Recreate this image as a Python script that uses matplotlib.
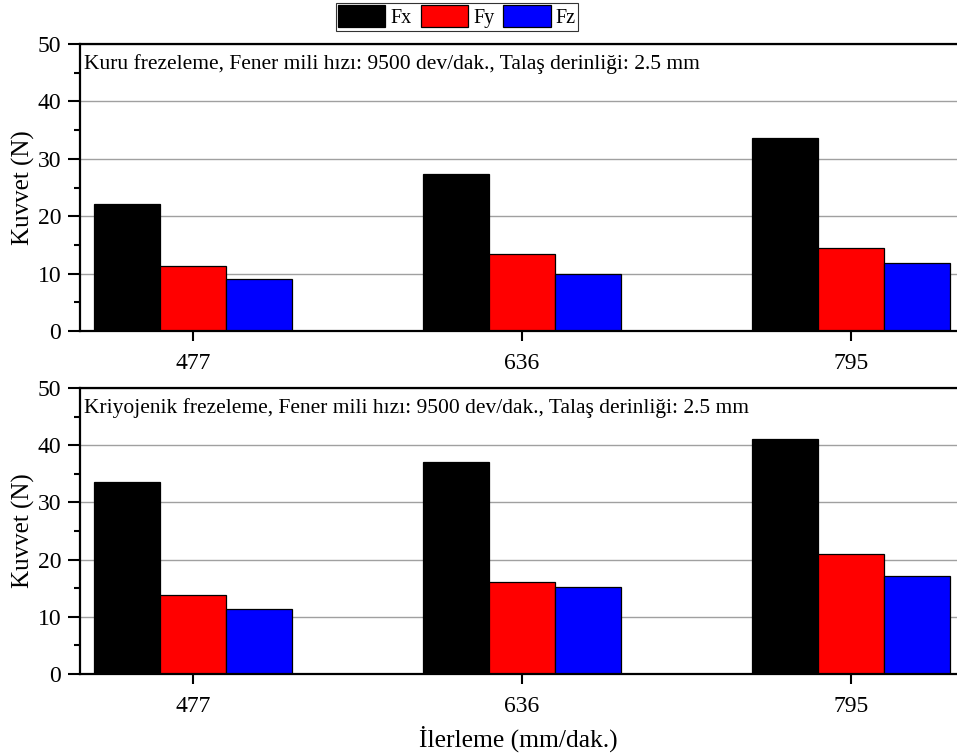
import matplotlib
matplotlib.use("Agg")
import matplotlib.pyplot as plt
import numpy as np
from matplotlib.patches import Patch

plt.rcParams["font.family"] = ["Liberation Serif", "DejaVu Serif"]

# Feed rates (mm/dak.)
feeds = ["477", "636", "795"]
series = ["Fx", "Fy", "Fz"]
colors = ["#000000", "#ff0000", "#0000ff"]

# Dry milling forces (N)
dry_fx = [22.1, 27.4, 33.6]
dry_fy = [11.4, 13.4, 14.5]
dry_fz = [9.1, 9.9, 11.8]

# Cryogenic milling forces (N)
cryo_fx = [33.6, 37.1, 41.1]
cryo_fy = [13.8, 16.1, 20.9]
cryo_fz = [11.4, 15.2, 17.1]

panel_titles = [
    "Kuru frezeleme, Fener mili hızı: 9500 dev/dak., Talaş derinliği: 2.5 mm",
    "Kriyojenik frezeleme, Fener mili hızı: 9500 dev/dak., Talaş derinliği: 2.5 mm",
]

W, H = 957, 756
fig = plt.figure(figsize=(W / 100, H / 100), dpi=100)

left = 80 / W
width = 1.0 - left
ax_top = fig.add_axes([left, 1 - 331 / H, width, 287 / H])
ax_bot = fig.add_axes([left, 1 - 674 / H, width, 286 / H])

x = np.arange(len(feeds))
bw = 0.2

for ax, data, title in zip(
    [ax_top, ax_bot],
    [[dry_fx, dry_fy, dry_fz], [cryo_fx, cryo_fy, cryo_fz]],
    panel_titles,
):
    for i, (vals, c) in enumerate(zip(data, colors)):
        ax.bar(x + (i - 1) * bw, vals, bw, color=c, edgecolor="black",
               linewidth=0.9, zorder=3)
    ax.set_xlim(-0.3435, 2.322)
    ax.set_ylim(0, 50)
    ax.set_yticks(np.arange(0, 51, 10))
    ax.set_yticks(np.arange(5, 50, 10), minor=True)
    ax.set_xticks(x)
    ax.set_xticklabels(feeds)
    ax.yaxis.grid(True, color="#a0a0a0", linewidth=1.0, zorder=0)
    ax.set_axisbelow(True)
    for s in ["left", "top", "bottom"]:
        ax.spines[s].set_linewidth(1.6)
        ax.spines[s].set_zorder(5)
    ax.spines["right"].set_visible(False)
    ax.tick_params(axis="y", which="major", direction="out", length=8.5,
                   width=1.5, labelsize=17, pad=5)
    ax.tick_params(axis="y", which="minor", direction="out", length=4,
                   width=1.5)
    ax.tick_params(axis="x", which="major", direction="out", length=7,
                   width=1.5, labelsize=17, pad=9)
    ax.set_ylabel("Kuvvet (N)", fontsize=18)
    ax.yaxis.set_label_coords(-0.051, 0.5)
    ax.text(0.005, 0.966, title, transform=ax.transAxes, ha="left", va="top",
            fontsize=15.5, zorder=6)

ax_bot.set_xlabel("İlerleme (mm/dak.)", fontsize=18.4)
ax_bot.xaxis.set_label_coords(0.5, -0.18)

handles = [Patch(facecolor=c, edgecolor="black", linewidth=0.9) for c in colors]
leg = fig.legend(handles, series, loc="upper center", ncol=3,
                 bbox_to_anchor=(457 / W, 1 - 3 / H), fontsize=14.5,
                 frameon=True, fancybox=False, edgecolor="black",
                 borderpad=0.12, handlelength=2.35, handleheight=1.3,
                 handletextpad=0.25, columnspacing=0.45, borderaxespad=0)
leg.get_frame().set_linewidth(0.8)

fig.savefig("out.png", dpi=100)
